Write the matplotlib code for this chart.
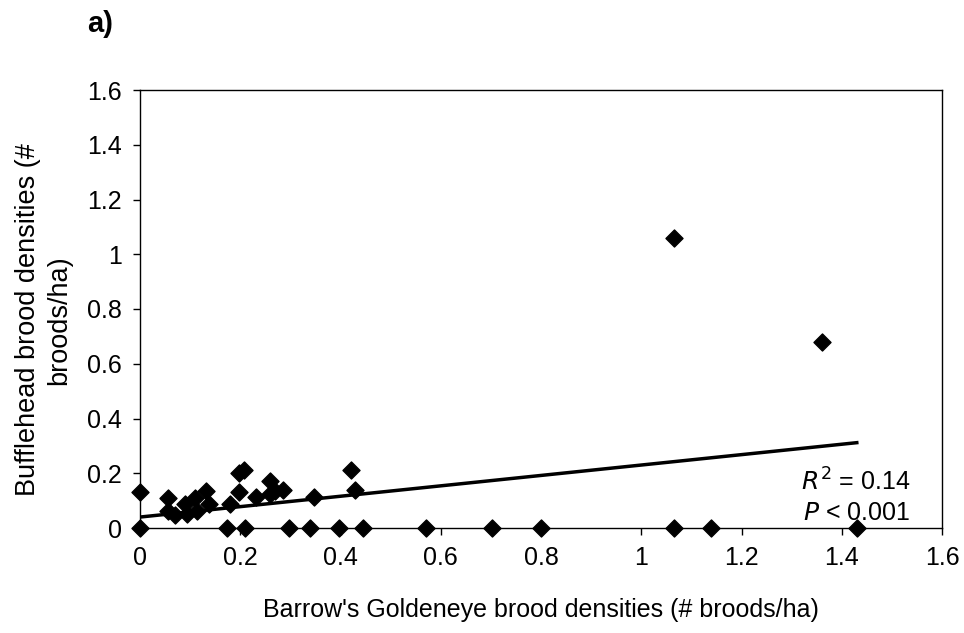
import numpy as np
import matplotlib
matplotlib.use("Agg")
from matplotlib import pyplot as plt

plt.rcParams["font.family"] = ["Liberation Sans", "DejaVu Sans"]

# Barrow's Goldeneye vs Bufflehead brood densities (broods/ha)
goldeneye = [0.0, 0.0, 0.055, 0.055, 0.07, 0.09, 0.093, 0.11, 0.113, 0.132,
             0.137, 0.173, 0.18, 0.197, 0.197, 0.208, 0.209, 0.231, 0.259, 0.259,
             0.27, 0.285, 0.297, 0.34, 0.347, 0.397, 0.42, 0.428, 0.445, 0.57,
             0.703, 0.8, 1.065, 1.065, 1.14, 1.36, 1.43]
bufflehead = [0.13, 0.0, 0.109, 0.062, 0.048, 0.087, 0.05, 0.11, 0.062, 0.135,
              0.087, 0.0, 0.087, 0.133, 0.2, 0.212, 0.0, 0.115, 0.172, 0.123,
              0.135, 0.138, 0.0, 0.0, 0.115, 0.0, 0.212, 0.139, 0.0, 0.0,
              0.0, 0.0, 1.06, 0.0, 0.0, 0.68, 0.0]

# fitted line as shown on the chart
fit_intercept = 0.04
fit_slope = 0.19

x_ticks = [0, 0.2, 0.4, 0.6, 0.8, 1.0, 1.2, 1.4, 1.6]
y_ticks = [0, 0.2, 0.4, 0.6, 0.8, 1.0, 1.2, 1.4, 1.6]


def fmt(v):
    s = ("%.1f" % v)
    if s.endswith(".0"):
        s = s[:-2]
    return s


fig = plt.figure(figsize=(9.64, 6.33), dpi=100)
ax = fig.add_axes([140 / 964, 1 - 528 / 633, 802 / 964, 438 / 633])

ax.scatter(goldeneye, bufflehead, marker="D", s=75, color="black", zorder=3, clip_on=False)

xs = np.array([0, max(goldeneye)])
ax.plot(xs, fit_intercept + fit_slope * xs, color="black", lw=2.5, zorder=2)

ax.set_xlim(0, 1.6)
ax.set_ylim(0, 1.6)
ax.set_xticks(x_ticks)
ax.set_yticks(y_ticks)
ax.set_xticklabels([fmt(v) for v in x_ticks])
ax.set_yticklabels([fmt(v) for v in y_ticks])
ax.tick_params(direction="out", length=5, width=1, labelsize=18, pad=8)

for sp in ax.spines.values():
    sp.set_linewidth(1)
    sp.set_color("black")

ax.set_xlabel("Barrow's Goldeneye brood densities (# broods/ha)", fontsize=18, labelpad=20)
ax.set_ylabel("Bufflehead brood densities (#\nbroods/ha)", fontsize=19.5, linespacing=1.25)
ax.yaxis.set_label_coords(-0.085, 0.475)

ax.text(0.96, 0.104, "$\\it{R}^2$ = 0.14", transform=ax.transAxes, ha="right", va="center", fontsize=18)
ax.text(0.96, 0.034, "$\\it{P}$ < 0.001", transform=ax.transAxes, ha="right", va="center", fontsize=18)

fig.text(87 / 964, 1 - 24 / 633, "a)", fontsize=21, fontweight="bold", ha="left", va="center")

fig.savefig("out.png", dpi=100)
